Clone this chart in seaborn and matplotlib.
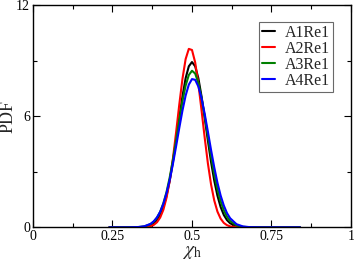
import matplotlib
matplotlib.use("Agg")
import matplotlib.pyplot as plt
import seaborn as sns
import pandas as pd
from matplotlib.ticker import MultipleLocator

sns.set_style("ticks")
plt.rcParams['font.family'] = ['Liberation Serif', 'DejaVu Serif']
plt.rcParams['mathtext.fontset'] = 'stix'

x_vals = [0.24, 0.30, 0.33, 0.35, 0.37, 0.38, 0.39, 0.40, 0.41, 0.42, 0.43, 0.44,
          0.45, 0.46, 0.47, 0.48, 0.49, 0.50, 0.51, 0.52, 0.53, 0.54, 0.55, 0.56,
          0.57, 0.58, 0.59, 0.60, 0.61, 0.62, 0.64, 0.66, 0.68, 0.72, 0.78, 0.84]

a1_vals = [0.0, 0.0, 0.005, 0.027, 0.113, 0.217, 0.39, 0.67, 1.10, 1.71, 2.52, 3.52,
           4.68, 5.90, 7.07, 8.05, 8.69, 8.92, 8.69, 8.05, 7.07, 5.90, 4.68, 3.52,
           2.52, 1.71, 1.10, 0.67, 0.39, 0.217, 0.057, 0.012, 0.002, 0.0, 0.0, 0.0]

a2_vals = [0.0, 0.0, 0.001, 0.011, 0.062, 0.135, 0.276, 0.53, 0.95, 1.60, 2.52, 3.71,
           5.12, 6.62, 8.01, 9.08, 9.63, 9.57, 8.90, 7.75, 6.32, 4.83, 3.45, 2.31,
           1.45, 0.85, 0.47, 0.24, 0.117, 0.052, 0.009, 0.0, 0.0, 0.0, 0.0, 0.0]

a3_vals = [0.0, 0.001, 0.011, 0.048, 0.174, 0.31, 0.52, 0.84, 1.30, 1.91, 2.70, 3.64,
           4.69, 5.78, 6.80, 7.65, 8.22, 8.45, 8.30, 7.79, 6.98, 5.99, 4.91, 3.84,
           2.88, 2.06, 1.41, 0.92, 0.57, 0.34, 0.107, 0.028, 0.006, 0.0, 0.0, 0.0]

a4_vals = [0.0, 0.001, 0.015, 0.057, 0.19, 0.33, 0.54, 0.84, 1.27, 1.85, 2.56, 3.42,
           4.37, 5.36, 6.30, 7.11, 7.70, 8.00, 7.96, 7.60, 6.97, 6.12, 5.16, 4.17,
           3.24, 2.41, 1.72, 1.18, 0.77, 0.49, 0.17, 0.05, 0.013, 0.0, 0.0, 0.0]

series_names = ["A1Re1", "A2Re1", "A3Re1", "A4Re1"]
series_colors = ["#000000", "#ff0000", "#008000", "#0000ff"]
x_ticks = [0, 0.25, 0.5, 0.75, 1]
x_tick_labels = ["0", "0.25", "0.5", "0.75", "1"]
y_ticks = [0, 6, 12]

frames = []
for name, vals in zip(series_names, [a1_vals, a2_vals, a3_vals, a4_vals]):
    frames.append(pd.DataFrame({"x": x_vals, "pdf": vals, "series": name}))
df = pd.concat(frames, ignore_index=True)

fig = plt.figure(figsize=(3.54, 2.61), dpi=100)
ax = fig.add_axes([0.0932, 0.129, 0.8983, 0.852])

sns.lineplot(data=df, x="x", y="pdf", hue="series", hue_order=series_names,
             palette=dict(zip(series_names, series_colors)), linewidth=1.5,
             ax=ax, sort=False, estimator=None)

ax.set_xlim(0, 1)
ax.set_ylim(0, 12)
ax.set_xticks(x_ticks)
ax.set_xticklabels(x_tick_labels)
ax.set_yticks(y_ticks)
ax.xaxis.set_minor_locator(MultipleLocator(0.125))
ax.yaxis.set_minor_locator(MultipleLocator(3))
ax.tick_params(which='both', direction='in', top=True, right=True,
               labelsize=10, width=0.8, colors='black')
ax.tick_params(which='major', length=5, pad=2)
ax.tick_params(which='minor', length=3)
for s in ax.spines.values():
    s.set_visible(True)
    s.set_color('black')
    s.set_linewidth(1.0)

ax.set_xlabel(r'$\chi_\mathrm{h}$', fontsize=14, labelpad=1)
ax.set_ylabel('PDF', fontsize=13, labelpad=0)

leg = ax.legend(loc='upper right', bbox_to_anchor=(0.944, 0.925), borderaxespad=0,
                fontsize=11.5, frameon=True, fancybox=False, handlelength=0.85,
                handletextpad=0.6, borderpad=0.2, labelspacing=0.0)
leg.get_frame().set_edgecolor('#444444')
leg.get_frame().set_linewidth(0.8)
leg.set_title(None)
for line in leg.get_lines():
    line.set_linewidth(1.5)

fig.savefig("out.png", dpi=100)
